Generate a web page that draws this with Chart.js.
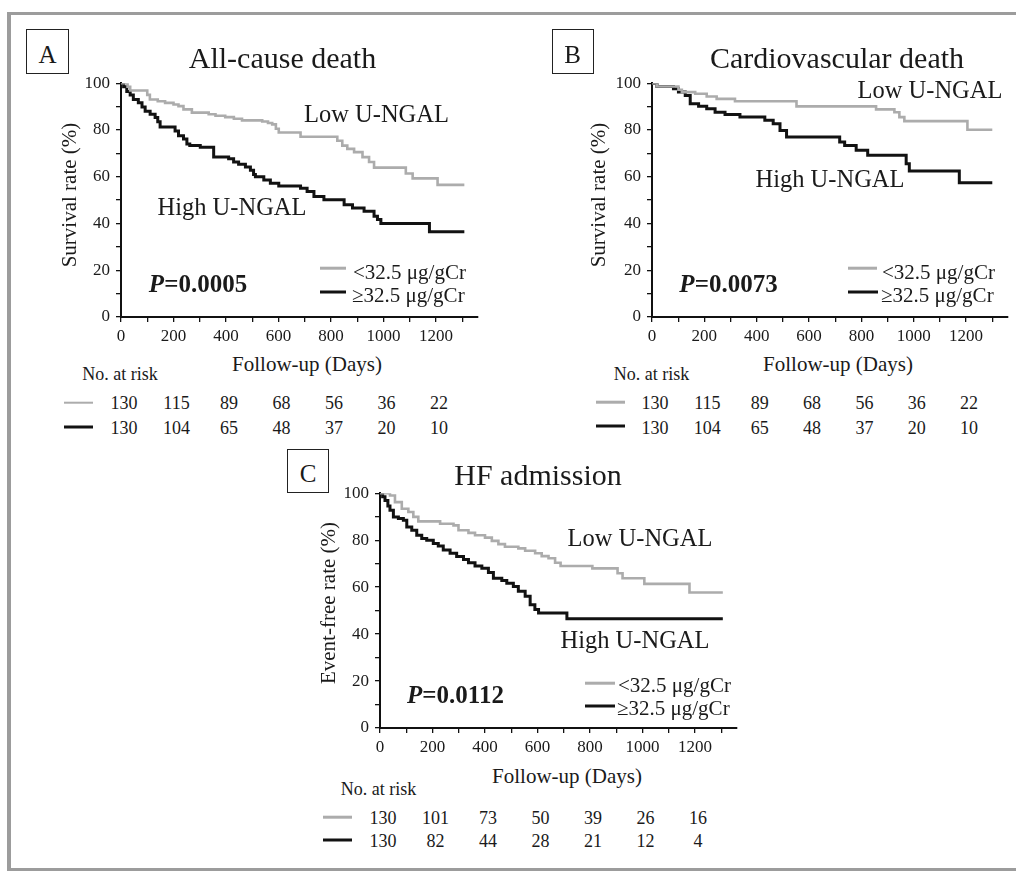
<!DOCTYPE html>
<html>
<head>
<meta charset="utf-8">
<script src="https://cdn.jsdelivr.net/npm/chart.js@4.4.1/dist/chart.umd.min.js"></script>
<style>
  html, body { margin: 0; padding: 0; background: #fff; overflow: hidden; }
  body { width: 1016px; height: 871px; position: relative;
         font-family: "Liberation Serif", "Times New Roman", serif; color: #1a1a1a; }
  .frame { position: absolute; left: 7px; top: 12px; width: 1009px; height: 859px; box-sizing: border-box;
           border-left: 4px solid #9c9c9c; border-top: 3px solid #9c9c9c; border-bottom: 3px solid #9c9c9c; }
  canvas { position: absolute; }
  .t { position: absolute; white-space: nowrap; line-height: 1; transform: translate(-50%, -50%); }
  .tl { transform: translate(0, -50%); }
  .rot { transform: translate(-50%, -50%) rotate(-90deg); }
  .box { position: absolute; box-sizing: border-box; border: 1.5px solid #222; }
  .ln { position: absolute; transform: translateY(-50%); }
</style>
</head>
<body>
<div class="frame"></div>
<script>
// ---- data ----
const titles = ['All-cause death', 'Cardiovascular death', 'HF admission'];
const panelLetters = ['A', 'B', 'C'];
const yTitles = ['Survival rate (%)', 'Survival rate (%)', 'Event-free rate (%)'];
const groupLabels = ['Low U-NGAL', 'High U-NGAL'];
const seriesLabels = ['<32.5 μg/gCr', '≥32.5 μg/gCr'];
const pValues = ['0.0005', '0.0073', '0.0112'];
const riskDays = [0, 200, 400, 600, 800, 1000, 1200];

// A: all-cause death
const aLowDays = [0, 25, 35, 100, 110, 140, 168, 200, 219, 238, 270, 334, 360, 397, 430, 461, 538, 560, 576, 590, 601, 684, 824, 843, 862, 888, 920, 945, 964, 1085, 1111, 1206, 1308];
const aLowPct  = [100, 98.5, 96.9, 95, 93, 92.3, 91.6, 90.9, 90.2, 88.8, 87.4, 86.7, 86.1, 85.5, 84.8, 84.1, 83.6, 83, 82.4, 80.5, 78.9, 77.1, 75.4, 73.3, 71.9, 70.5, 68.4, 66.3, 63.9, 61.4, 59.3, 56.5, 56.5];
const aHighDays = [0, 10, 22, 35, 47, 66, 80, 92, 111, 130, 140, 149, 206, 219, 238, 251, 262, 302, 353, 410, 429, 448, 474, 493, 505, 512, 544, 569, 601, 684, 709, 735, 773, 850, 882, 926, 964, 977, 990, 1175, 1308];
const aHighPct  = [100, 98.5, 96.5, 95, 93, 91.6, 89.8, 88, 86.7, 85.3, 83.5, 81.3, 79.6, 77.5, 76.1, 74, 73.3, 72.6, 68.4, 67.7, 66.3, 65.3, 64.2, 62.8, 61, 60, 58.6, 57.2, 56, 55.1, 53.7, 51.5, 50.1, 48, 46.6, 45.2, 43.1, 41.7, 40, 36.5, 36.5];
const aRiskLow  = [130, 115, 89, 68, 56, 36, 22];
const aRiskHigh = [130, 104, 65, 48, 37, 20, 10];

// B: cardiovascular death
const bLowDays = [0, 19, 101, 114, 165, 209, 247, 317, 552, 856, 926, 945, 964, 1205, 1300];
const bLowPct  = [100, 98.6, 97.2, 96.2, 95.5, 94.3, 93.3, 92.3, 90.1, 88.8, 87.6, 85.5, 83.8, 80.1, 80.1];
const bHighDays = [0, 19, 82, 101, 127, 146, 178, 209, 241, 279, 336, 431, 463, 489, 514, 717, 736, 780, 824, 971, 983, 1174, 1300];
const bHighPct  = [100, 98.6, 97.6, 96.2, 94.7, 91.2, 90.1, 89.1, 87.6, 86.6, 85.5, 84.1, 82.7, 79.8, 77, 74.9, 73.4, 71.3, 69.2, 65.6, 62.5, 57.4, 57.4];
const bRiskLow  = [130, 115, 89, 68, 56, 36, 22];
const bRiskHigh = [130, 104, 65, 48, 37, 20, 10];

// C: HF admission
const cLowDays = [0, 38, 57, 83, 108, 127, 146, 229, 280, 299, 337, 362, 400, 426, 451, 476, 527, 553, 591, 616, 642, 667, 688, 809, 905, 924, 1007, 1179, 1306];
const cLowPct  = [100, 99, 96.2, 93.4, 92, 89.9, 88, 87, 86.3, 84.2, 83.1, 82.1, 81.1, 79.7, 78.3, 77.2, 76.5, 75.5, 74.4, 73.2, 72.3, 70.4, 69, 68, 65.9, 63.8, 61.4, 57.7, 57.7];
const cHighDays = [0, 10, 19, 30, 38, 51, 70, 89, 102, 121, 140, 159, 178, 203, 222, 241, 267, 292, 318, 337, 362, 388, 413, 432, 464, 483, 508, 527, 553, 572, 590, 604, 712, 1306];
const cHighPct  = [100, 98.5, 96.9, 94.5, 92.7, 89.9, 89.2, 88.5, 85.6, 84.2, 82.1, 80.7, 80, 78.6, 77.5, 75.8, 74.4, 73, 71.8, 70.4, 69, 68, 66.2, 63.8, 62.8, 61.7, 60.3, 58.2, 56.1, 52.5, 50.5, 49, 46.5, 46.5];
const cRiskLow  = [130, 101, 73, 50, 39, 26, 16];
const cRiskHigh = [130, 82, 44, 28, 21, 12, 4];

// ---- helpers ----
const GRAY = '#acacac';
const BLACK = '#121212';
const SERIF = 'Liberation Serif';

function addText(html, x, y, size, cls, extra) {
  const el = document.createElement('div');
  el.className = 't' + (cls ? ' ' + cls : '');
  el.innerHTML = html;
  el.style.left = x + 'px';
  el.style.top = y + 'px';
  el.style.fontSize = size + 'px';
  if (extra) Object.assign(el.style, extra);
  document.body.appendChild(el);
  return el;
}

function addLine(x1, x2, y, color, h) {
  const el = document.createElement('div');
  el.className = 'ln';
  el.style.left = x1 + 'px';
  el.style.top = y + 'px';
  el.style.width = (x2 - x1) + 'px';
  el.style.height = h + 'px';
  el.style.background = color;
  document.body.appendChild(el);
}

function addBox(x, y, w, h) {
  const el = document.createElement('div');
  el.className = 'box';
  Object.assign(el.style, { left: x + 'px', top: y + 'px', width: w + 'px', height: h + 'px' });
  document.body.appendChild(el);
}

function zip(days, pct) {
  return days.map((d, i) => ({ x: d, y: pct[i] }));
}

function esc(s) {
  return s.replace(/</g, '&lt;');
}

// plot area in page pixels: left, top, right, bottom
function makeChart(area, lowDays, lowPct, highDays, highPct) {
  const padTop = 14, padRight = 6, yW = 50, xH = 30;
  const cv = document.createElement('canvas');
  const left = area[0] - yW, top = area[1] - padTop;
  const w = area[2] + padRight - left, h = area[3] + xH - top;
  cv.width = w; cv.height = h;
  cv.style.left = left + 'px';
  cv.style.top = top + 'px';
  cv.style.width = w + 'px';
  cv.style.height = h + 'px';
  document.body.appendChild(cv);

  const tickFont = { family: SERIF, size: 17 };
  const chart = new Chart(cv.getContext('2d'), {
    type: 'line',
    data: {
      datasets: [
        { data: zip(lowDays, lowPct), borderColor: GRAY, borderWidth: 2.6, stepped: 'before', pointRadius: 0, fill: false },
        { data: zip(highDays, highPct), borderColor: BLACK, borderWidth: 3, stepped: 'before', pointRadius: 0, fill: false }
      ]
    },
    options: {
      responsive: false,
      animation: false,
      events: [],
      layout: { padding: { top: padTop, right: padRight, left: 0, bottom: 0 }, autoPadding: false },
      plugins: { legend: { display: false }, tooltip: { enabled: false } },
      scales: {
        x: {
          type: 'linear', min: 0, max: 1360,
          afterFit: s => { s.height = xH; },
          ticks: { stepSize: 100, includeBounds: false, autoSkip: false, maxRotation: 0, padding: 4,
                   color: '#1a1a1a', font: tickFont, callback: v => (v % 200 === 0 ? v : '') },
          grid: { drawOnChartArea: false, tickLength: 5, color: '#111', lineWidth: 1.3 },
          border: { color: '#111', width: 2 }
        },
        y: {
          min: 0, max: 100,
          afterFit: s => { s.width = yW; },
          ticks: { stepSize: 10, autoSkip: false, padding: 6,
                   color: '#1a1a1a', font: tickFont, callback: v => (v % 20 === 0 ? v : '') },
          grid: { drawOnChartArea: false, tickLength: 5, color: '#111', lineWidth: 1.3 },
          border: { color: '#111', width: 2 }
        }
      }
    }
  });
  chart.pageLeft = left;
  return chart;
}

function riskRows(chart, lowRow, highRow, y1, y2) {
  riskDays.forEach((d, i) => {
    const x = chart.pageLeft + chart.scales.x.getPixelForValue(d) + 3;
    addText(String(lowRow[i]), x, y1, 18);
    addText(String(highRow[i]), x, y2, 18);
  });
}

// ---- panel A ----
const chA = makeChart([121, 81, 478, 317], aLowDays, aLowPct, aHighDays, aHighPct);
addBox(26, 29, 43, 45);
addText(panelLetters[0], 47.5, 53.5, 25);
addText(titles[0], 282.5, 58, 30);
addText(groupLabels[0], 376.5, 113.5, 24.5);
addText(groupLabels[1], 232, 206.5, 24.5);
addText('<b><i>P</i>=' + pValues[0] + '</b>', 198, 282.5, 25);
addLine(320, 346, 268, GRAY, 2.6);
addLine(320, 346, 292, BLACK, 3);
addText(esc(seriesLabels[0]), 353, 271.5, 21, 'tl');
addText(esc(seriesLabels[1]), 352, 295, 21, 'tl');
addText(yTitles[0], 69, 194.5, 21, 'rot');
addText('Follow-up (Days)', 307, 364, 21);
addText('No. at risk', 120, 374, 18);
addLine(64, 93, 402.5, GRAY, 2.6);
addLine(64, 93, 426.7, BLACK, 3);
riskRows(chA, aRiskLow, aRiskHigh, 403, 428);

// ---- panel B ----
const chB = makeChart([652, 81, 1008, 317], bLowDays, bLowPct, bHighDays, bHighPct);
addBox(552, 29, 42, 45);
addText(panelLetters[1], 572.5, 54, 25);
addText(titles[1], 837, 58, 30);
addText(groupLabels[0], 930, 89.5, 24.5);
addText(groupLabels[1], 830, 178.5, 24.5);
addText('<b><i>P</i>=' + pValues[1] + '</b>', 728.5, 282.5, 25);
addLine(848, 877, 268, GRAY, 2.6);
addLine(848, 878, 292, BLACK, 3);
addText(esc(seriesLabels[0]), 882, 271.5, 21, 'tl');
addText(esc(seriesLabels[1]), 881, 295, 21, 'tl');
addText(yTitles[1], 598, 194.5, 21, 'rot');
addText('Follow-up (Days)', 838, 364, 21);
addText('No. at risk', 651.5, 374, 18);
addLine(596, 625, 402, GRAY, 2.6);
addLine(596, 625, 426, BLACK, 3);
riskRows(chB, bRiskLow, bRiskHigh, 403, 428);

// ---- panel C ----
const chC = makeChart([380, 491, 737, 728], cLowDays, cLowPct, cHighDays, cHighPct);
addBox(287, 449, 42, 44);
addText(panelLetters[2], 308, 472.5, 25);
addText(titles[2], 538, 475, 30);
addText(groupLabels[0], 640, 537.5, 24.5);
addText(groupLabels[1], 635, 640, 24.5);
addText('<b><i>P</i>=' + pValues[2] + '</b>', 455.5, 693.5, 25);
addLine(585, 615, 683, GRAY, 2.6);
addLine(585, 615, 706, BLACK, 3);
addText(esc(seriesLabels[0]), 618, 685, 21, 'tl');
addText(esc(seriesLabels[1]), 617, 708, 21, 'tl');
addText(yTitles[2], 328, 603, 21, 'rot');
addText('Follow-up (Days)', 567, 776, 21);
addText('No. at risk', 378.5, 789, 18);
addLine(323, 352, 817, GRAY, 2.6);
addLine(323, 352, 840, BLACK, 3);
riskRows(chC, cRiskLow, cRiskHigh, 817.5, 841);
</script>
</body>
</html>
